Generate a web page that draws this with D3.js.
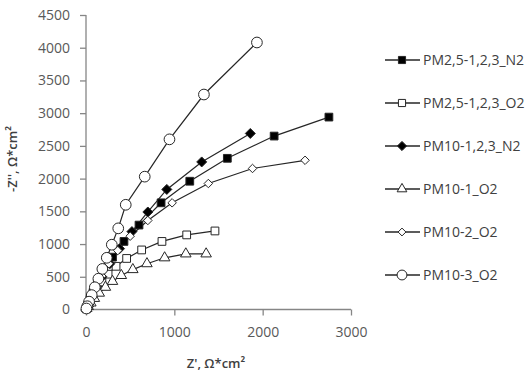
<!DOCTYPE html>
<html><head><meta charset="utf-8">
<script src="https://cdn.jsdelivr.net/npm/d3@7"></script>
<style>body{margin:0;background:#fff}svg{display:block}text{font-family:"Open Sans",sans-serif}</style>
</head><body><svg id="c" width="528" height="378"></svg>
<script>
const seriesNames = ["PM2,5-1,2,3_N2","PM2,5-1,2,3_O2","PM10-1,2,3_N2","PM10-1_O2","PM10-2_O2","PM10-3_O2"];
const xTicks = [0,1000,2000,3000];
const yTicks = [0,500,1000,1500,2000,2500,3000,3500,4000,4500];

const pm25N2_x = [2750,2130,1600,1175,850,600,430,300,200,130,80,45,20,6];
const pm25N2_y = [2940,2650,2310,1960,1630,1290,1040,800,580,400,260,150,70,20];
const pm25O2_x = [1460,1140,860,630,460,340,250,180,120,75,40,15,4];
const pm25O2_y = [1200,1140,1040,910,780,660,540,420,300,190,100,35,10];
const pm10N2_x = [1860,1310,915,700,520,380,270,180,110,60,25,8];
const pm10N2_y = [2690,2255,1835,1490,1190,930,700,500,330,190,80,25];
const pm101O2_x = [1360,1130,890,690,530,400,300,220,150,95,55,25,8];
const pm101O2_y = [850,850,790,700,610,520,430,340,250,170,100,45,15];
const pm102O2_x = [2480,1885,1385,975,700,500,360,260,180,120,70,35,12];
const pm102O2_y = [2280,2155,1925,1630,1360,1120,900,700,510,350,210,100,30];
const pm103O2_x = [1935,1335,945,665,450,365,292,235,185,140,100,65,35,15,5];
const pm103O2_y = [4080,3285,2600,2030,1600,1240,990,790,620,470,340,220,120,50,15];

const symDiamond = { draw(ctx, size){ const r = Math.sqrt(size/2); ctx.moveTo(0,-r); ctx.lineTo(r,0); ctx.lineTo(0,r); ctx.lineTo(-r,0); ctx.closePath(); } };
const symbols = [
  {type:d3.symbolSquare, size:60, fill:"#000"},
  {type:d3.symbolSquare, size:60, fill:"#fff"},
  {type:symDiamond, size:50, fill:"#000"},
  {type:d3.symbolTriangle, size:48, fill:"#fff"},
  {type:symDiamond, size:36, fill:"#fff"},
  {type:d3.symbolCircle, size:90, fill:"#fff"}
];
const data = [
  [pm25N2_x,pm25N2_y],[pm25O2_x,pm25O2_y],[pm10N2_x,pm10N2_y],
  [pm101O2_x,pm101O2_y],[pm102O2_x,pm102O2_y],[pm103O2_x,pm103O2_y]
].map(([xs,ys],i)=>({name:seriesNames[i],sym:symbols[i],pts:xs.map((x,j)=>[x,ys[j]])}));

const svg = d3.select("#c");
const x = d3.scaleLinear().domain([0,3000]).range([86,351]);
const y = d3.scaleLinear().domain([0,4500]).range([309.5,15]);
const axisCol = "#868686", textCol = "#595959";

const gx = svg.append("g").attr("transform","translate(0,309.5)")
  .call(d3.axisBottom(x).tickValues(xTicks).tickSize(6).tickPadding(12).tickFormat(d3.format("d")));
const gy = svg.append("g").attr("transform","translate(86,0)")
  .call(d3.axisLeft(y).tickValues(yTicks).tickSize(6).tickPadding(10).tickFormat(d3.format("d")));
[gx,gy].forEach(g=>{
  g.select(".domain").attr("stroke",axisCol).attr("stroke-width",1.3);
  g.selectAll(".tick line").attr("stroke",axisCol).attr("stroke-width",1.3);
  g.selectAll("text").attr("fill",textCol).style("font-size","14px").attr("font-family","Open Sans");
});
gx.select(".domain").attr("d","M86,0H351");
gy.select(".domain").attr("d","M0,309.5V15");

const line = d3.line().x(d=>x(d[0])).y(d=>y(d[1]));
const lc = "#262626";
data.forEach(s=>{
  svg.append("path").attr("d",line(s.pts)).attr("fill","none").attr("stroke",lc).attr("stroke-width",1.2);
});
data.forEach(s=>{
  const sym = d3.symbol().type(s.sym.type).size(s.sym.size);
  svg.append("g").selectAll("path").data(s.pts).join("path")
    .attr("d",sym).attr("transform",d=>`translate(${x(d[0])},${y(d[1])})`)
    .attr("fill",s.sym.fill).attr("stroke",lc).attr("stroke-width",1);
});

// axis titles
svg.append("text").attr("x",216).attr("y",368).attr("text-anchor","middle")
  .attr("fill","#404040").style("font-size","13px").style("font-weight","600").text("Z', Ω*cm²");
svg.append("text").attr("transform","translate(17,159) rotate(-90)").attr("text-anchor","middle")
  .attr("fill","#404040").style("font-size","13px").style("font-weight","600").text("-Z'', Ω*cm²");

// legend
const lg = svg.append("g");
data.forEach((s,i)=>{
  const yy = 60 + i*43;
  lg.append("line").attr("x1",385).attr("x2",420).attr("y1",yy).attr("y2",yy).attr("stroke",lc).attr("stroke-width",1.3);
  lg.append("path").attr("d",d3.symbol().type(s.sym.type).size(s.sym.size*0.85)())
    .attr("transform",`translate(402,${yy})`).attr("fill",s.sym.fill).attr("stroke",lc).attr("stroke-width",1);
  lg.append("text").attr("x",423).attr("y",yy).attr("dy","0.35em").attr("fill","#404040")
    .style("font-size","14px").text(s.name);
});
</script></body></html>
